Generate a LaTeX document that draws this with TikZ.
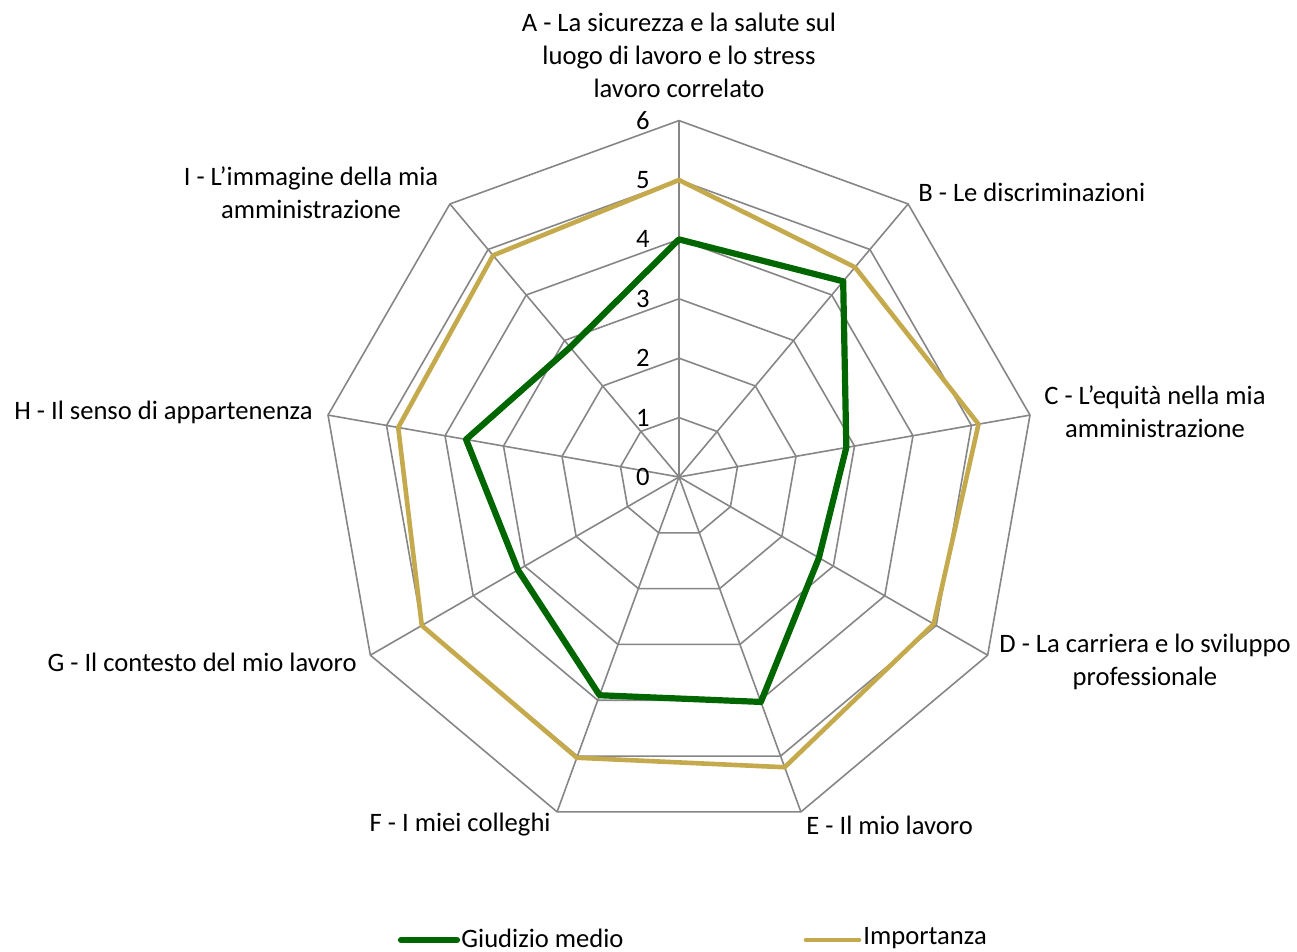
\documentclass[tikz,border=0pt]{standalone}
\usepackage{fontspec}
\setmainfont{Carlito}
\usetikzlibrary{positioning}
\definecolor{giudizio}{RGB}{0,102,0}
\definecolor{importanza}{RGB}{196,170,76}
\definecolor{griglia}{RGB}{134,134,134}
\tikzstyle{grid}=[draw=griglia,line width=0.8pt]
\tikzstyle{serie}=[line width=3.1pt,line join=round]
\tikzstyle{etichetta}=[font=\fontsize{13.3}{16.5}\selectfont,align=center,inner sep=0pt]
\tikzstyle{tacca}=[font=\fontsize{13.3}{16.5}\selectfont,anchor=east,inner sep=0pt]

\begin{document}
\begin{tikzpicture}[x=0.5pt,y=0.5pt]
\useasboundingbox (0,0) rectangle (1297,952);
\begin{scope}[shift={(679,475)}]
    % griglia
    \foreach \l in {1,...,6}
        \draw[grid] (90:{59.4*\l}) \foreach \k in {1,...,8}{-- ({90-40*\k}:{59.4*\l})} -- cycle;
    \foreach \k in {0,...,8}
        \draw[grid] (0,0) -- ({90-40*\k}:356.4);
    \foreach \l in {0,...,6}
        \node[tacca] (t\l) at (-29,{59.4*\l}) {\l};
    % serie
    \foreach \v [count=\k from 0] in {5.0,4.61,5.12,4.95,5.2,5.03,5.0,4.8,4.87}
        \coordinate (i\k) at ({90-40*\k}:{59.4*\v});
    \foreach \v [count=\k from 0] in {4.0,4.3,2.86,2.72,4.03,3.91,3.13,3.64,2.85}
        \coordinate (g\k) at ({90-40*\k}:{59.4*\v});
    \draw[serie,draw=importanza,line width=2.3pt] (i0) \foreach \k in {1,...,8}{-- (i\k)} -- cycle;
    \draw[serie,draw=giudizio] (g0) \foreach \k in {1,...,8}{-- (g\k)} -- cycle;
\end{scope}
% assi
\node[etichetta] (axA) at (679,897) {A - La sicurezza e la salute sul\\luogo di lavoro e lo stress\\lavoro correlato};
\node[etichetta,anchor=west] (axB) at (918,760) {B - Le discriminazioni};
\node[etichetta] (axC) at (1155,540) {C - L’equità nella mia\\amministrazione};
\node[etichetta] (axD) at (1145,290) {D - La carriera e lo sviluppo\\professionale};
\node[etichetta,anchor=west] (axE) at (806,127) {E - Il mio lavoro};
\node[etichetta,anchor=east] (axF) at (551,127) {F - I miei colleghi};
\node[etichetta,anchor=east] (axG) at (357,290) {G - Il contesto del mio lavoro};
\node[etichetta,anchor=east] (axH) at (313,540) {H - Il senso di appartenenza};
\node[etichetta] (axI) at (311,759) {I - L’immagine della mia\\amministrazione};
% legenda
\coordinate (lg1a) at (401,12);
\coordinate (lg1b) at (457,12);
\coordinate (lg2a) at (806,12);
\coordinate (lg2b) at (859,12);
\draw[serie,draw=giudizio,line cap=round] (lg1a) -- (lg1b);
\draw[serie,draw=importanza,line width=2.3pt,line cap=round] (lg2a) -- (lg2b);
\node[etichetta,anchor=west,right=2pt of lg1b,yshift=1pt] (leg1) {Giudizio medio};
\node[etichetta,anchor=west,right=2pt of lg2b,yshift=1pt] (leg2) {Importanza};
\end{tikzpicture}
\end{document}
